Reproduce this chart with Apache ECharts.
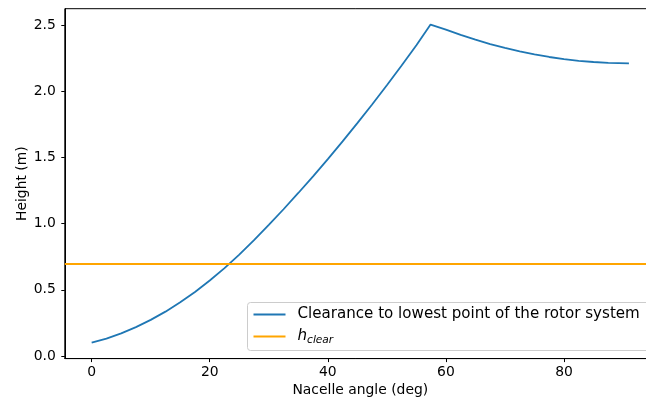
<!DOCTYPE html>
<html>
<head>
<meta charset="utf-8">
<title>Rotor clearance vs nacelle angle</title>
<script src="https://cdn.jsdelivr.net/npm/echarts@6/dist/echarts.min.js"></script>
<style>
  html, body { margin: 0; padding: 0; background: #fff; }
  #chart { width: 646px; height: 403px; }
</style>
</head>
<body>
<div id="chart"></div>
<script>
// Nacelle tilt angle (deg) and clearance of the lowest rotor point (m)
const nacelleAngle = [0, 2.5, 5, 7.5, 10, 12.5, 15, 17.5, 20, 22.5, 25, 27.5, 30, 32.5, 35, 37.5,
  40, 42.5, 45, 47.5, 50, 52.5, 55, 57.4, 60, 62.5, 65, 67.5, 70, 72.5, 75, 77.5, 80, 82.5, 85, 87.5, 91];
const clearance = [0.100, 0.131, 0.171, 0.218, 0.273, 0.335, 0.406, 0.484, 0.570, 0.664, 0.766, 0.875,
  0.990, 1.109, 1.232, 1.358, 1.488, 1.622, 1.760, 1.901, 2.046, 2.195, 2.348, 2.505,
  2.467, 2.427, 2.391, 2.358, 2.329, 2.303, 2.280, 2.260, 2.244, 2.231, 2.222, 2.215, 2.212];

// Required clearance height (m)
const hClear = 0.7;

// Axis ranges and tick positions
const xRange = [-4.55, 95.55];
const yRange = [-0.02, 2.625];
const xTicks = [0, 20, 40, 60, 80];
const yTicks = [0, 0.5, 1.0, 1.5, 2.0, 2.5];

const FONT = 'DejaVu Sans';
const FS = 13.9;
const LEGEND_FS = 15.1;

const chart = echarts.init(document.getElementById('chart'), null, { renderer: 'canvas' });

chart.setOption({
  animation: false,
  backgroundColor: '#ffffff',
  textStyle: { fontFamily: FONT },
  grid: {
    left: 64.8, top: 8.7, width: 591, height: 349.9,
    outerBoundsMode: 'none',
    containLabel: false,
    show: true, borderColor: '#000', borderWidth: 1, backgroundColor: 'transparent'
  },
  xAxis: {
    type: 'value',
    min: xRange[0], max: xRange[1],
    name: 'Nacelle angle (deg)',
    nameLocation: 'middle',
    nameGap: 25,
    nameMoveOverlap: false,
    nameTextStyle: { fontFamily: FONT, fontSize: FS, color: '#000' },
    axisLine: { show: true, onZero: false, lineStyle: { color: '#000', width: 1 } },
    axisTick: { show: true, length: 3.5, lineStyle: { color: '#000', width: 1 }, customValues: xTicks },
    axisLabel: { fontFamily: FONT, fontSize: FS, color: '#000', margin: 7, customValues: xTicks,
      formatter: v => String(v) },
    splitLine: { show: false }
  },
  yAxis: {
    type: 'value',
    min: yRange[0], max: yRange[1],
    name: 'Height (m)',
    nameLocation: 'middle',
    nameGap: 35,
    nameMoveOverlap: false,
    nameTextStyle: { fontFamily: FONT, fontSize: FS, color: '#000' },
    axisLine: { show: true, onZero: false, lineStyle: { color: '#000', width: 1 } },
    axisTick: { show: true, length: 3.5, lineStyle: { color: '#000', width: 1 }, customValues: yTicks },
    axisLabel: { fontFamily: FONT, fontSize: FS, color: '#000', margin: 9, customValues: yTicks,
      formatter: v => v.toFixed(1) },
    splitLine: { show: false }
  },
  legend: {
    orient: 'vertical',
    left: 247.5, top: 302.5,
    padding: [3, 14, 5, 6],
    itemGap: 4,
    itemWidth: 32,
    itemHeight: 2,
    icon: 'rect',
    backgroundColor: 'rgba(255,255,255,0.8)',
    borderColor: '#cccccc',
    borderWidth: 1,
    borderRadius: 3,
    data: ['Clearance to lowest point of the rotor system', 'hclear'],
    formatter: name => name === 'hclear' ? '{h|h}{s|clear}' : name,
    textStyle: {
      fontFamily: FONT, fontSize: LEGEND_FS, color: '#000', lineHeight: 18,
      padding: [0, 0, 0, 7],
      rich: {
        h: { fontFamily: FONT, fontSize: LEGEND_FS, fontStyle: 'italic', color: '#000', lineHeight: 18 },
        s: { fontFamily: FONT, fontSize: 10.6, fontStyle: 'italic', color: '#000', lineHeight: 18,
             padding: [7, 0, 0, 0] }
      }
    }
  },
  series: [
    {
      name: 'Clearance to lowest point of the rotor system',
      type: 'line',
      data: nacelleAngle.map((a, i) => [a, clearance[i]]),
      showSymbol: false,
      symbol: 'none',
      color: '#1f77b4',
      lineStyle: { color: '#1f77b4', width: 1.8 },
      emphasis: { disabled: true },
      z: 3
    },
    {
      name: 'hclear',
      type: 'line',
      data: [],
      symbol: 'none',
      color: '#ffa500',
      lineStyle: { color: '#ffa500', width: 1.8 },
      markLine: {
        silent: true,
        symbol: 'none',
        label: { show: false },
        lineStyle: { color: '#ffa500', width: 1.8, type: 'solid' },
        emphasis: { disabled: true },
        data: [{ yAxis: hClear }]
      },
      z: 2
    }
  ]
});
</script>
</body>
</html>
